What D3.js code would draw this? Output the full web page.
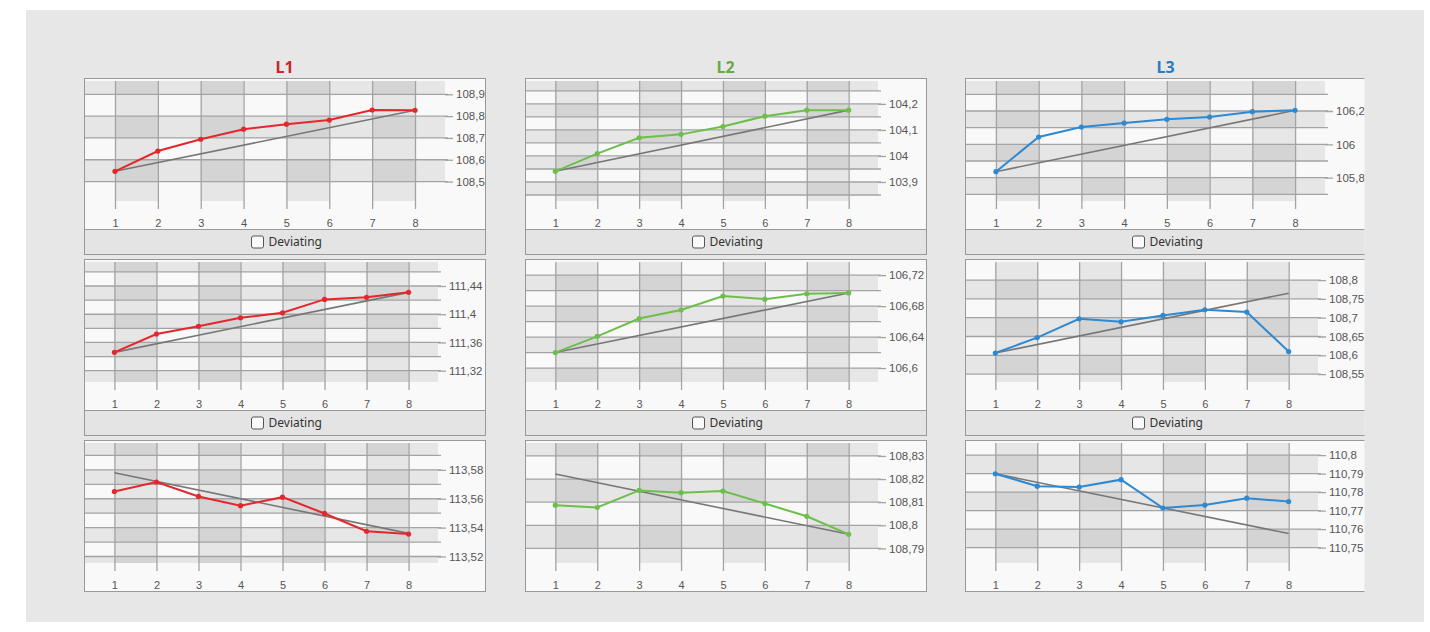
<!DOCTYPE html>
<html>
<head>
<meta charset="utf-8">
<script src="https://cdn.jsdelivr.net/npm/d3@7"></script>
<style>
  body { margin: 0; background: #fff; }
  svg { display: block; font-family: "Noto Sans", sans-serif; }
</style>
</head>
<body>
<script>
// categories (x positions 1..8) and series names
const categories = [1, 2, 3, 4, 5, 6, 7, 8];
const seriesNames = ["L1", "L2", "L3"];

// top row
const l1Top = [108.547, 108.640, 108.694, 108.740, 108.763, 108.782, 108.828, 108.827];
const l2Top = [103.941, 104.009, 104.070, 104.083, 104.113, 104.153, 104.176, 104.176];
const l3Top = [105.836, 106.044, 106.104, 106.128, 106.150, 106.164, 106.196, 106.204];
// middle row
const l1Mid = [111.346, 111.372, 111.383, 111.395, 111.402, 111.421, 111.424, 111.431];
const l2Mid = [106.620, 106.641, 106.664, 106.675, 106.693, 106.689, 106.696, 106.697];
const l3Mid = [108.606, 108.647, 108.697, 108.689, 108.706, 108.721, 108.715, 108.610];
// bottom row
const l1Bottom = [113.565, 113.5716, 113.5616, 113.5552, 113.5611, 113.5498, 113.5375, 113.5355];
const l2Bottom = [108.8087, 108.8077, 108.8151, 108.8141, 108.8148, 108.8094, 108.8039, 108.7961];
const l3Bottom = [110.7899, 110.7832, 110.7827, 110.7867, 110.7714, 110.773, 110.7767, 110.7749];

// gray reference line: value at category 1 and at category 8
const l1TopTrend = [108.547, 108.827];
const l2TopTrend = [103.941, 104.176];
const l3TopTrend = [105.836, 106.204];
const l1MidTrend = [111.346, 111.431];
const l2MidTrend = [106.620, 106.697];
const l3MidTrend = [108.606, 108.765];
const l1BottomTrend = [113.578, 113.536];
const l2BottomTrend = [108.8222, 108.7961];
const l3BottomTrend = [110.7899, 110.7576];

// labelled ticks on the right axis
const l1TopTicks = [108.5, 108.6, 108.7, 108.8, 108.9];
const l2TopTicks = [103.9, 104, 104.1, 104.2];
const l3TopTicks = [105.8, 106, 106.2];
const l1MidTicks = [111.32, 111.36, 111.4, 111.44];
const l2MidTicks = [106.6, 106.64, 106.68, 106.72];
const l3MidTicks = [108.55, 108.6, 108.65, 108.7, 108.75, 108.8];
const l1BottomTicks = [113.52, 113.54, 113.56, 113.58];
const l2BottomTicks = [108.79, 108.8, 108.81, 108.82, 108.83];
const l3BottomTicks = [110.75, 110.76, 110.77, 110.78, 110.79, 110.8];

// visible value range of each plot
const l1TopDomain = [108.411, 108.961];
const l2TopDomain = [103.827, 104.288];
const l3TopDomain = [105.66, 106.38];
const l1MidDomain = [111.304, 111.474];
const l2MidDomain = [106.582, 106.737];
const l3MidDomain = [108.529, 108.848];
const l1BottomDomain = [113.5155, 113.5986];
const l2BottomDomain = [108.7837, 108.8356];
const l3BottomDomain = [110.7417, 110.8065];

// gridline spacing per panel (row by row)
const gridSteps = [[0.1, 0.05, 0.1], [0.02, 0.02, 0.05], [0.01, 0.01, 0.01]];

const panels = [
  [l1Top, l1TopTrend, l1TopTicks, l1TopDomain],
  [l2Top, l2TopTrend, l2TopTicks, l2TopDomain],
  [l3Top, l3TopTrend, l3TopTicks, l3TopDomain],
  [l1Mid, l1MidTrend, l1MidTicks, l1MidDomain],
  [l2Mid, l2MidTrend, l2MidTicks, l2MidDomain],
  [l3Mid, l3MidTrend, l3MidTicks, l3MidDomain],
  [l1Bottom, l1BottomTrend, l1BottomTicks, l1BottomDomain],
  [l2Bottom, l2BottomTrend, l2BottomTicks, l2BottomDomain],
  [l3Bottom, l3BottomTrend, l3BottomTicks, l3BottomDomain],
].map(([values, trend, ticks, domain], i) => ({
  row: Math.floor(i / 3), col: i % 3, values, trend, ticks, domain,
  step: gridSteps[Math.floor(i / 3)][i % 3],
}));

// layout
const width = 1430;
const height = 632;
const colX = [84, 525, 965];
const rowY = [78, 259, 440];
const panelW = 401;
const chartH = 151;
const barH = 25;
const plotRight = [[361, 353, 360], [354, 353, 353], [354, 353, 353]];
const plotTop = 3;
const plotBottom = 123;
const lineColors = ["#e5262c", "#6cbf4a", "#2e89d1"];
const titleColors = ["#c8262c", "#64ad45", "#2a7cc1"];

const fmt = d3.formatLocale({ decimal: ",", thousands: ".", grouping: [3], currency: ["", ""] }).format(".2~f");

const svg = d3.select("body").append("svg").attr("width", width).attr("height", height);

svg.append("rect")
  .attr("x", 26).attr("y", 10).attr("width", 1398).attr("height", 612)
  .attr("fill", "#e6e7e6");

svg.append("defs").append("clipPath").attr("id", "clip")
  .append("rect").attr("x", 0).attr("y", 0).attr("width", 1364.5).attr("height", 592);

// column titles
svg.selectAll("text.title")
  .data(seriesNames)
  .enter()
  .append("text")
  .attr("class", "title")
  .attr("x", (d, i) => colX[i] + panelW / 2)
  .attr("y", 73)
  .attr("text-anchor", "middle")
  .attr("fill", (d, i) => titleColors[i])
  .style("font-size", "16px")
  .style("font-weight", "bold")
  .text((d) => d);

const root = svg.append("g").attr("clip-path", "url(#clip)");

panels.forEach((p) => {
  const px = colX[p.col];
  const py = rowY[p.row];
  const left = px + 1;
  const right = px + plotRight[p.row][p.col];
  const top = py + plotTop;
  const bottom = py + plotBottom;

  const x = d3.scaleLinear().domain([0.3, 8.7]).range([left, right]);
  const y = d3.scaleLinear().domain(p.domain).range([bottom, top]);

  const g = root.append("g");

  // panel frame and chart background
  g.append("rect")
    .attr("x", px + 0.5).attr("y", py + 0.5)
    .attr("width", panelW).attr("height", chartH + barH)
    .attr("fill", "#f9f9f9").attr("stroke", "#999");

  // horizontal interlaced bands
  const kMin = Math.ceil(p.domain[0] / p.step - 1e-6);
  const kMax = Math.floor(p.domain[1] / p.step + 1e-6);
  const bands = d3.range(kMin - 1, kMax + 1).filter((k) => Math.abs(k % 2) === 1);
  g.selectAll("rect.hband")
    .data(bands)
    .enter()
    .append("rect")
    .attr("class", "hband")
    .attr("x", left)
    .attr("width", right - left)
    .attr("y", (k) => y(Math.min((k + 1) * p.step, p.domain[1])))
    .attr("height", (k) => y(Math.max(k * p.step, p.domain[0])) - y(Math.min((k + 1) * p.step, p.domain[1])))
    .attr("fill", "#000")
    .attr("fill-opacity", 0.075);

  // vertical interlaced bands
  g.selectAll("rect.vband")
    .data(categories.filter((c) => c % 2 === 1 && c < categories[categories.length - 1]))
    .enter()
    .append("rect")
    .attr("class", "vband")
    .attr("x", (c) => x(c))
    .attr("width", (c) => x(c + 1) - x(c))
    .attr("y", top)
    .attr("height", bottom - top)
    .attr("fill", "#000")
    .attr("fill-opacity", 0.075);

  // horizontal gridlines
  g.selectAll("line.hgrid")
    .data(d3.range(kMin, kMax + 1))
    .enter()
    .append("line")
    .attr("class", "hgrid")
    .attr("x1", left)
    .attr("x2", right + 3)
    .attr("y1", (k) => y(k * p.step))
    .attr("y2", (k) => y(k * p.step))
    .attr("stroke", "#a3a3a3")
    .attr("stroke-width", 1.3);

  // x axis with gridlines through the plot
  const xAxis = g.append("g")
    .attr("transform", `translate(0, ${bottom + 8})`)
    .call(d3.axisBottom(x).tickValues(categories).tickSize(-(bottom - top + 8)).tickPadding(10).tickFormat(d3.format("d")));
  xAxis.select(".domain").remove();
  xAxis.selectAll("line").attr("stroke", "#a3a3a3").attr("stroke-width", 1.3);
  xAxis.selectAll("text").attr("fill", "#555").style("font-size", "11px");

  // right value axis
  const yAxis = g.append("g")
    .attr("transform", `translate(${right}, 0)`)
    .call(d3.axisRight(y).tickValues(p.ticks).tickSize(8).tickPadding(3).tickFormat(fmt));
  yAxis.select(".domain").remove();
  yAxis.selectAll("line").attr("stroke", "#a3a3a3").attr("stroke-width", 1.3);
  yAxis.selectAll("text").attr("fill", "#555").style("font-size", "11.5px");

  // gray reference line
  const last = categories[categories.length - 1];
  g.append("path")
    .datum([[categories[0], p.trend[0]], [last, p.trend[1]]])
    .attr("d", d3.line().x((d) => x(d[0])).y((d) => y(d[1])))
    .attr("fill", "none")
    .attr("stroke", "#777")
    .attr("stroke-width", 1.6);

  // series line and points
  const color = lineColors[p.col];
  g.append("path")
    .datum(p.values)
    .attr("d", d3.line().x((d, i) => x(categories[i])).y((d) => y(d)))
    .attr("fill", "none")
    .attr("stroke", color)
    .attr("stroke-width", 2);

  g.selectAll("circle")
    .data(p.values)
    .enter()
    .append("circle")
    .attr("cx", (d, i) => x(categories[i]))
    .attr("cy", (d) => y(d))
    .attr("r", 2.6)
    .attr("fill", color);

  // "Deviating" bar
  const cx = px + panelW / 2;
  g.append("rect")
    .attr("x", px + 0.5).attr("y", py + chartH + 0.5)
    .attr("width", panelW).attr("height", barH)
    .attr("fill", "#e4e4e4").attr("stroke", "#999");
  g.append("rect")
    .attr("x", cx - 33).attr("y", py + chartH + 7)
    .attr("width", 12).attr("height", 12).attr("rx", 2)
    .attr("fill", "#fafafa").attr("stroke", "#555");
  g.append("text")
    .attr("x", cx - 16).attr("y", py + chartH + 17)
    .attr("fill", "#333")
    .style("font-size", "12px")
    .text("Deviating");
});
</script>
</body>
</html>
